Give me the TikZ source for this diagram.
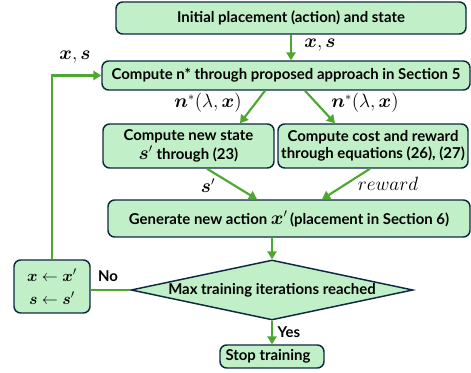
\documentclass[tikz,border=0pt]{standalone}
\usepackage{amsmath}
\usepackage{amssymb}
\usepackage{fontspec}
\setmainfont{Lato}
\usetikzlibrary{shapes.geometric,arrows.meta,calc}

\definecolor{boxfill}{RGB}{193,240,200}
\definecolor{boxline}{RGB}{14,40,65}
\definecolor{flowgreen}{RGB}{78,167,46}

\tikzset{
  stepbox/.style={draw=boxline,fill=boxfill,line width=1.1pt,rounded corners=5pt,
    align=center,inner sep=0pt,font=\bfseries\fontsize{11.2}{13}\selectfont},
  decbox/.style={diamond,draw=boxline,fill=boxfill,line width=1.1pt,aspect=4.7,
    inner sep=0pt,font=\bfseries\fontsize{11.2}{13}\selectfont},
  flow/.style={draw=flowgreen,line width=1.6pt,-{Triangle[length=6pt,width=7pt]}},
  flowline/.style={draw=flowgreen,line width=1.6pt},
  lbl/.style={inner sep=0.75pt,font=\fontsize{13.5}{15}\selectfont},
  yesno/.style={inner sep=0.75pt,font=\bfseries\fontsize{11.2}{13}\selectfont}
}

\begin{document}
\begin{tikzpicture}[x=0.75pt,y=0.75pt,yscale=-1,xscale=1]
  \useasboundingbox (0,0) rectangle (471,373);

  %Shape: Boxes
  \node[stepbox,minimum width=262.5pt,minimum height=24pt] (init) at (291,18) {Initial placement (action) and state};
  \node[stepbox,minimum width=276pt,minimum height=21.75pt] (comp) at (286,75.5) {Compute n* through proposed approach in Section 5};
  \node[stepbox,minimum width=128.25pt,minimum height=33pt] (newstate) at (188.5,146) {Compute new state\\[1.5pt]{\fontsize{13.5}{15}\selectfont$\boldsymbol{s}'$}\ through (23)};
  \node[stepbox,minimum width=142.5pt,minimum height=33pt] (reward) at (373,146) {Compute cost and reward\\through equations (26), (27)};
  \node[stepbox,minimum width=271.5pt,minimum height=27.75pt] (gen) at (289,218.5) {Generate new action {\fontsize{13.5}{15}\selectfont$\boldsymbol{x}'$}\,(placement in Section 6)};
  \node[decbox,minimum width=211.5pt,minimum height=45pt] (dec) at (272,290) {\makebox[0pt]{Max training iterations reached}};
  \node[stepbox,minimum width=57pt,minimum height=39.75pt,font=\fontsize{13}{17}\selectfont] (upd) at (52,286.5) {$\boldsymbol{x}\leftarrow\boldsymbol{x}'$\\$\boldsymbol{s}\leftarrow\boldsymbol{s}'$};
  \node[stepbox,minimum width=78pt,minimum height=17.25pt] (stop) at (272,356.5) {Stop training\hspace{6pt}};

  %Straight Lines: connectors
  \draw[flow] (init.south) -- (init.south |- comp.north);
  \draw[flow] ($(comp.south)+(-21,0)$) -- ($(newstate.north)+(51.5,0)$);
  \draw[flow] ($(comp.south)+(19,0)$) -- ($(reward.north)+(-38,0)$);
  \draw[flow] ($(newstate.south)+(18.5,0)$) -- ($(gen.north)+(-32,0)$);
  \draw[flow] ($(reward.south)+(-3,0)$) -- ($(gen.north)+(33,0)$);
  \draw[flow] (dec.north |- gen.south) -- (dec.north);
  \draw[flow] (dec.south) -- (stop.north);
  \draw[flowline] (dec.west) -- (dec.west -| upd.east);
  \draw[flow] (upd.north) |- (comp.west);

  % Text Node
  \node[lbl] (lxs) at (320,45) {$\boldsymbol{x},\boldsymbol{s}$};
  % Text Node
  \node[lbl] (lxsloop) at (75,57) {$\boldsymbol{x},\boldsymbol{s}$};
  % Text Node
  \node[lbl] (lnleft) at (208,103) {$\boldsymbol{n}^{*}(\lambda,\boldsymbol{x})$};
  % Text Node
  \node[lbl] (lnright) at (365,103) {$\boldsymbol{n}^{*}(\lambda,\boldsymbol{x})$};
  % Text Node
  \node[lbl] (lsp) at (208,186) {$\boldsymbol{s}'$};
  % Text Node
  \node[lbl] (lrew) at (388,184) {$reward$};
  % Text Node
  \node[yesno] (lno) at (108,276) {No};
  % Text Node
  \node[yesno] (lyes) at (289,332) {Yes};
\end{tikzpicture}
\end{document}
